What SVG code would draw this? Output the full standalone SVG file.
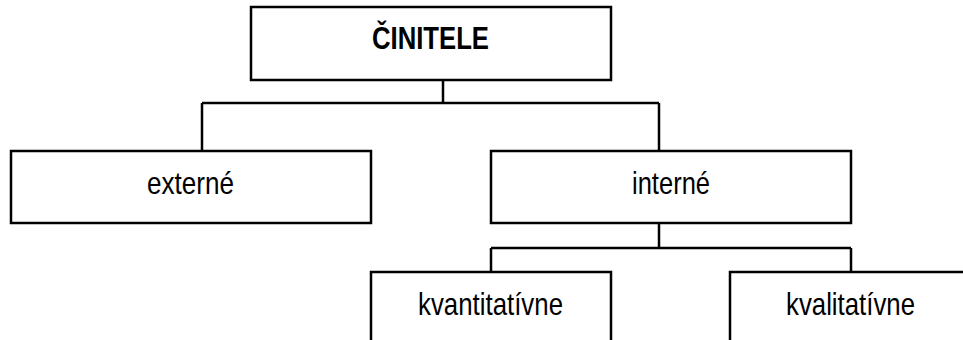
<svg xmlns="http://www.w3.org/2000/svg" width="963" height="340" viewBox="0 0 963 340">
<style>
.box{fill:#fff;stroke:#000;stroke-width:2.5}
.con{fill:none;stroke:#000;stroke-width:2.5}
.t{font-family:"Liberation Sans",Arial,sans-serif;font-size:32px;fill:#000;text-anchor:middle}
.b{font-weight:bold;font-size:32px}
</style>
<rect width="963" height="340" fill="#fff"/>
<g id="connectors">
<path class="con" d="M443,80 V103 M202,103 H659 M202,103 V151 M659,103 V151"/>
<path class="con" d="M659,223 V248 M491,248 H851 M491,248 V272 M851,248 V272"/>
</g>
<g id="cinitele">
<rect class="box" x="251" y="7" width="360" height="73"/>
<text class="t b" x="430.5" y="49" textLength="117" lengthAdjust="spacingAndGlyphs">ČINITELE</text>
</g>
<g id="externe">
<rect class="box" x="11" y="151" width="360" height="72"/>
<text class="t" x="190.5" y="194" textLength="87" lengthAdjust="spacingAndGlyphs">externé</text>
</g>
<g id="interne">
<rect class="box" x="491" y="151" width="360" height="72"/>
<text class="t" x="671" y="194" textLength="78" lengthAdjust="spacingAndGlyphs">interné</text>
</g>
<g id="kvantitativne">
<rect class="box" x="371" y="272" width="240" height="80"/>
<text class="t" x="490.5" y="315" textLength="145" lengthAdjust="spacingAndGlyphs">kvantitatívne</text>
</g>
<g id="kvalitativne">
<rect class="box" x="730" y="272" width="240" height="80"/>
<text class="t" x="850.5" y="315" textLength="129" lengthAdjust="spacingAndGlyphs">kvalitatívne</text>
</g>
</svg>
